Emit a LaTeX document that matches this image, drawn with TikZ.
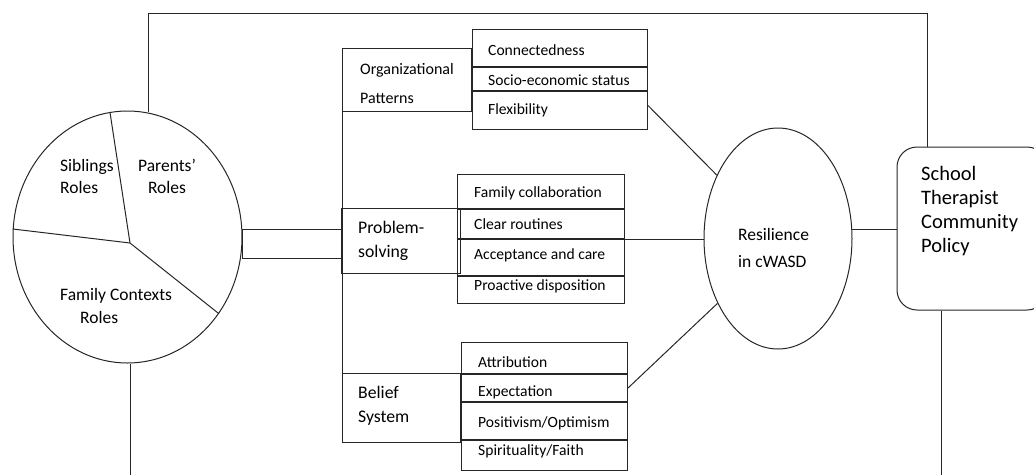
\documentclass[tikz,border=0pt]{standalone}
\usepackage{fontspec}
\setmainfont{Carlito}
\usetikzlibrary{shapes.geometric,positioning,calc}

\tikzset{
  ln/.style={line width=1pt, draw=black!85},
  box/.style 2 args={ln, rectangle, anchor=north west, inner sep=0pt, minimum width=#1, minimum height=#2},
  itemtxt/.style={anchor=west, inner sep=0pt, font=\fontsize{15.6}{19}\selectfont},
  maintxt/.style={anchor=west, inner sep=0pt, align=left, font=\fontsize{17.7}{24}\selectfont},
}

\begin{document}
\begin{tikzpicture}[x=1pt, y=-1pt]

 \useasboundingbox (0,0) rectangle (1034,475);
 \clip (0,0) rectangle (1034,475);

 %%%%%%%%%% Family roles (pie) %%%%%%%%%%
 \node[ln, ellipse, minimum width=229pt, minimum height=252pt, inner sep=0pt] (family) at (127.5,237) {};
 \coordinate (hub) at (130,243);
 \draw[ln] (family.98) -- (hub) -- (family.176);
 \draw[ln] (hub) -- (family.320);

 \node[maintxt, font=\fontsize{17.5}{22}\selectfont] (siblings) at (60,176) {Siblings\\Roles};
 \node[maintxt, anchor=center, align=center, font=\fontsize{17.5}{22}\selectfont] (parents) at (167,176) {Parents’\\Roles};
 \node[maintxt, font=\fontsize{17.5}{23}\selectfont] (contexts) at (60,305.5) {Family Contexts\\\hspace*{20pt}Roles};

 %%%%%%%%%% Organizational patterns %%%%%%%%%%
 \node[box={129pt}{63pt}] (org) at (342,48) {};
 \node[maintxt, font=\fontsize{16}{29}\selectfont] (orgtxt) at ([xshift=18pt, yshift=-3pt]org.west) {Organizational\\Patterns};

 \node[box={175pt}{37pt}] (conn) at (472,29) {};
 \node[box={175pt}{23pt}] (socio) at (conn.south west) {};
 \node[box={175pt}{38pt}] (flex) at (socio.south west) {};
 \node[itemtxt] (conntxt) at ([xshift=16pt, yshift=-2pt]conn.west) {Connectedness};
 \node[itemtxt] (sociotxt) at ([xshift=16pt, yshift=-1pt]socio.west) {Socio-economic status};
 \node[itemtxt] (flextxt) at ([xshift=16pt]flex.west) {Flexibility};

 %%%%%%%%%% Problem solving %%%%%%%%%%
 \node[box={119pt}{65pt}] (prob) at (341,208) {};
 \node[maintxt] (probtxt) at ([xshift=17pt]prob.west) {Problem-\\solving};

 \node[box={167pt}{34pt}] (collab) at (457,174) {};
 \node[box={167pt}{29pt}] (routine) at (collab.south west) {};
 \node[box={167pt}{36pt}] (accept) at (routine.south west) {};
 \node[box={167pt}{27pt}] (proact) at (accept.south west) {};
 \node[itemtxt] (collabtxt) at ([xshift=17pt, yshift=-2pt]collab.west) {Family collaboration};
 \node[itemtxt] (routinetxt) at ([xshift=17pt]routine.west) {Clear routines};
 \node[itemtxt] (accepttxt) at ([xshift=17pt, yshift=2pt]accept.west) {Acceptance and care};
 \node[itemtxt] (proacttxt) at ([xshift=17pt, yshift=4pt]proact.west) {Proactive disposition};

 %%%%%%%%%% Belief system %%%%%%%%%%
 \node[box={118pt}{69pt}] (belief) at (342,373) {};
 \node[maintxt] (belieftxt) at ([xshift=16pt, yshift=2.5pt]belief.west) {Belief\\System};

 \node[box={166pt}{31pt}] (attrib) at (461,342) {};
 \node[box={166pt}{27pt}] (expect) at (attrib.south west) {};
 \node[box={166pt}{37pt}] (posit) at (expect.south west) {};
 \node[box={166pt}{30pt}] (spirit) at (posit.south west) {};
 \node[itemtxt] (attribtxt) at ([xshift=17pt, yshift=-4pt]attrib.west) {Attribution};
 \node[itemtxt] (expecttxt) at ([xshift=17pt, yshift=-4pt]expect.west) {Expectation};
 \node[itemtxt] (posittxt) at ([xshift=17pt, yshift=-2pt]posit.west) {Positivism/Optimism};
 \node[itemtxt] (spirittxt) at ([xshift=17pt, yshift=4pt]spirit.west) {Spirituality/Faith};

 %%%%%%%%%% Resilience and outer context %%%%%%%%%%
 \node[ln, ellipse, minimum width=148pt, minimum height=221pt, inner sep=0pt] (resil) at (778,238.5) {};
 \node[maintxt, font=\fontsize{17.5}{27}\selectfont] (resiltxt) at (738,247.5) {Resilience\\in cWASD};

 \node[ln, rectangle, rounded corners=20pt, minimum width=150pt, minimum height=163pt, inner sep=0pt] (school) at (972,228.5) {};
 \node[maintxt, font=\fontsize{20.5}{24}\selectfont] (schooltxt) at (921,211) {School\\Therapist\\Community\\Policy};

 %%%%%%%%%% Links %%%%%%%%%%
 \coordinate (topleft) at (148,13);
 \coordinate (topright) at (927,13);
 \draw[ln] (topleft |- family.81) -- (topleft) -- (topright) -- (topright |- school.north);

 \coordinate (jtop) at (242,229);
 \coordinate (jbot) at (242,258);
 \draw[ln] (jtop -| prob.west) -- (jtop) -- (jbot) -- (jbot -| prob.west);

 \draw[ln] (org.south west) -- (belief.north west);

 \draw[ln] ([yshift=5pt]flex.east) -- (resil.134);
 \draw[ln] (accept.north east) -- (accept.north east -| resil.west);
 \draw[ln] (expect.east) -- (resil.227);
 \draw[ln] (resil.7) -- (resil.7 -| school.west);

 \coordinate (famfoot) at (130,475);
 \draw[ln] (famfoot |- family.south) -- (famfoot);
 \coordinate (schoolfoot) at (941,475);
 \draw[ln] (schoolfoot |- school.south) -- (schoolfoot);

\end{tikzpicture}
\end{document}
